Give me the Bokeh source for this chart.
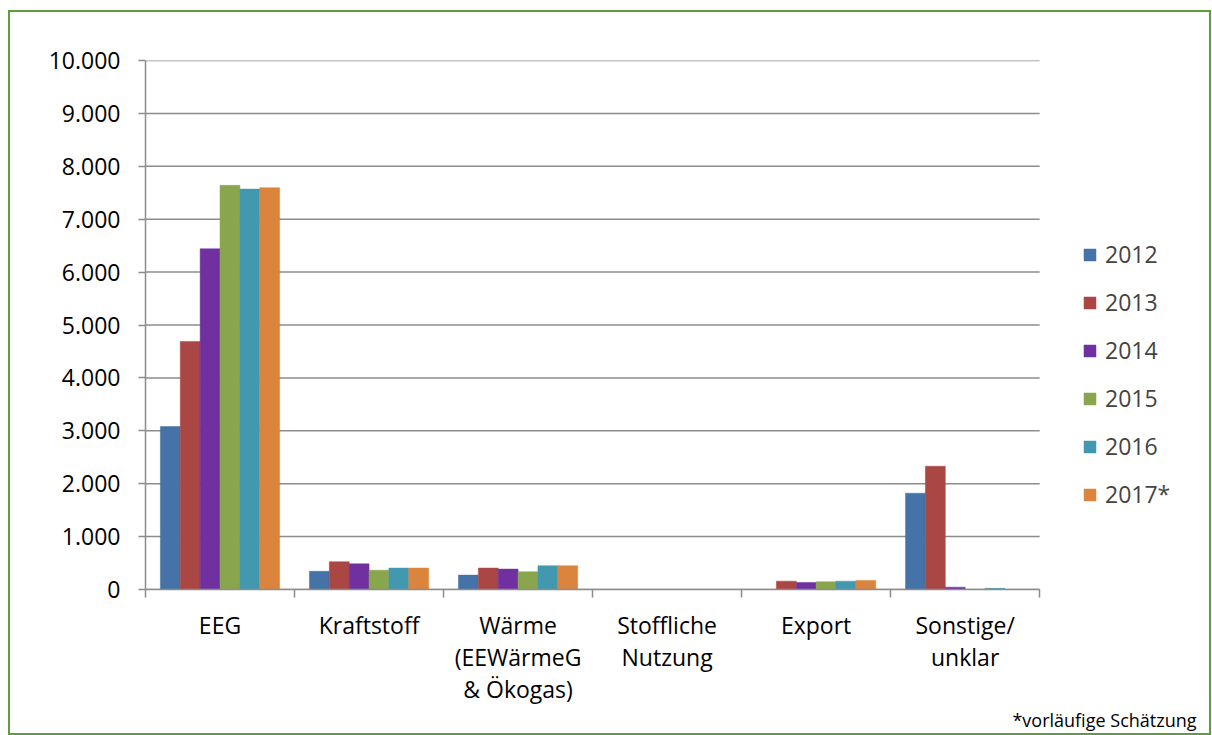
from bokeh.plotting import figure
from bokeh.models import Range1d, FixedTicker, ColumnDataSource, Title, Legend, LegendItem
from bokeh.embed import file_html
from bokeh.resources import INLINE

categories = ["EEG", "Kraftstoff", "Wärme\n(EEWärmeG\n& Ökogas)", "Stoffliche\nNutzung", "Export", "Sonstige/\nunklar"]
years = ["2012", "2013", "2014", "2015", "2016", "2017*"]
v2012 = [3080, 344, 272, 0, 0, 1820]
v2013 = [4690, 525, 405, 0, 158, 2330]
v2014 = [6440, 485, 386, 0, 133, 44]
v2015 = [7640, 365, 335, 0, 146, 0]
v2016 = [7570, 405, 449, 0, 158, 22]
v2017 = [7595, 405, 449, 0, 171, 0]
series = [v2012, v2013, v2014, v2015, v2016, v2017]
colors = ["#4572A7", "#AA4643", "#7030A0", "#89A54E", "#4198AF", "#DB843D"]
y_ticks = [0, 1000, 2000, 3000, 4000, 5000, 6000, 7000, 8000, 9000, 10000]
y_tick_labels = ["0", "1.000", "2.000", "3.000", "4.000", "5.000", "6.000", "7.000", "8.000", "9.000", "10.000"]
footnote = "*vorläufige Schätzung"

FONT = "Open Sans"
GRAY = "#8C8C8C"
ncat = len(categories)
# plot area spans the categories plus room on the right for the legend
x_end = ncat * 1069 / 895

p = figure(width=1203, height=725, output_backend="svg", toolbar_location=None,
           x_range=Range1d(0, x_end), y_range=Range1d(0, 10000),
           min_border_left=135, min_border_top=48, min_border_right=0, min_border_bottom=148)
p.styles = {"border": "2px solid #5E9E3A", "margin-left": "8px", "margin-top": "10px"}
p.outline_line_color = None
p.background_fill_color = "white"
p.border_fill_color = "white"

# horizontal gridlines across the category area only
p.segment(x0=[0] * len(y_ticks), x1=[ncat] * len(y_ticks), y0=y_ticks, y1=y_ticks,
          line_color=GRAY, line_width=1.5)

n = len(years)
bw = 0.8 / n
items = []
for k, (vals, col, yr) in enumerate(zip(series, colors, years)):
    xs = [i + 0.5 + (k - (n - 1) / 2) * bw for i in range(ncat)]
    src = ColumnDataSource(dict(x=xs, top=vals))
    r = p.vbar(x="x", top="top", bottom=0, width=bw, source=src, fill_color=col, line_color=col, line_width=0.5)
    items.append(LegendItem(label=yr, renderers=[r]))

# y axis
p.yaxis.ticker = FixedTicker(ticks=y_ticks)
p.yaxis.major_label_overrides = {t: l for t, l in zip(y_ticks, y_tick_labels)}
p.yaxis.major_label_text_font = FONT
p.yaxis.major_label_text_font_size = "23px"
p.yaxis.major_label_text_color = "black"
p.yaxis.axis_line_color = GRAY
p.yaxis.axis_line_width = 1.5
p.yaxis.major_tick_line_color = GRAY
p.yaxis.major_tick_line_width = 1.5
p.yaxis.major_tick_out = 7
p.yaxis.major_tick_in = 0
p.yaxis.minor_tick_line_color = None
p.yaxis.major_label_standoff = 18

# x axis: labels at category centres, ticks at boundaries
centres = [i + 0.5 for i in range(ncat)]
bounds = list(range(ncat + 1))
p.xaxis.bounds = (0, ncat)
p.xaxis.ticker = FixedTicker(ticks=centres, minor_ticks=bounds)
p.xaxis.major_label_overrides = {c: t for c, t in zip(centres, categories)}
p.xaxis.major_label_text_font = FONT
p.xaxis.major_label_text_font_size = "23px"
p.xaxis.major_label_text_line_height = 1.0
p.xaxis.major_label_text_color = "black"
p.xaxis.axis_line_color = GRAY
p.xaxis.axis_line_width = 1.5
p.xaxis.major_tick_line_color = None
p.xaxis.major_tick_out = 8
p.xaxis.major_tick_in = 0
p.xaxis.minor_tick_line_color = GRAY
p.xaxis.minor_tick_line_width = 1.5
p.xaxis.minor_tick_out = 8
p.xaxis.minor_tick_in = 0
p.xaxis.major_label_standoff = 11

p.xgrid.grid_line_color = None
p.ygrid.grid_line_color = None

# footnote
note = Title(text=footnote, align="right", offset=17, text_font=FONT, vertical_align="top",
             text_font_size="18px", text_font_style="normal", text_color="black", standoff=0)
p.add_layout(note, "below")

legend = Legend(items=items, location=(937, 79), orientation="vertical")
legend.border_line_color = None
legend.background_fill_alpha = 0
legend.padding = 0
legend.margin = 0
legend.glyph_width = 15
legend.glyph_height = 15
legend.label_standoff = 8
legend.label_text_font = FONT
legend.label_text_font_size = "23px"
legend.label_height = 20
legend.spacing = 16
p.add_layout(legend, "center")

open("out.html", "w").write(file_html(p, INLINE))
